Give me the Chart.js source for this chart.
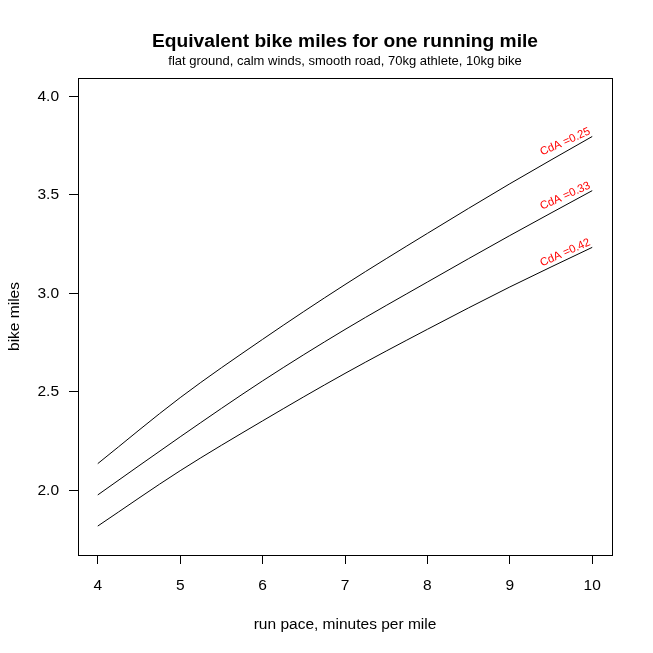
<!DOCTYPE html>
<html>
<head>
<meta charset="utf-8">
<script src="https://cdn.jsdelivr.net/npm/chart.js@4/dist/chart.umd.min.js"></script>
<style>
  html, body { margin: 0; padding: 0; background: #fff; }
  #wrap { width: 653px; height: 653px; }
</style>
</head>
<body>
<div id="wrap"><canvas id="chart" width="653" height="653"></canvas></div>
<script>
// run pace (minutes per mile)
const paces = [4, 5, 6, 7, 8, 9, 10];
// equivalent bike miles, one series per CdA value
const cda025 = [2.136, 2.471, 2.767, 3.045, 3.305, 3.557, 3.797];
const cda033 = [1.977, 2.272, 2.556, 2.817, 3.058, 3.294, 3.522];
const cda042 = [1.819, 2.100, 2.353, 2.594, 2.818, 3.033, 3.234];
const seriesLabels = ['CdA =0.25', 'CdA =0.33', 'CdA =0.42'];
const xTicks = [4, 5, 6, 7, 8, 9, 10];
const yTicks = [2.0, 2.5, 3.0, 3.5, 4.0];

const FONT = '"Liberation Sans", Arial, sans-serif';

const toPoints = (vals) => paces.map((p, i) => ({ x: p, y: vals[i] }));

const lineStyle = {
    borderColor: '#000',
    borderWidth: 1,
    pointRadius: 0,
    fill: false,
    cubicInterpolationMode: 'monotone'
};

// box, titles, axis titles and the rotated series labels
const decorations = {
    id: 'decorations',
    afterDraw: (chart) => {
        const ctx = chart.ctx;
        const a = chart.chartArea;
        const cx = (a.left + a.right) / 2;
        ctx.save();

        ctx.strokeStyle = '#000';
        ctx.lineWidth = 1;
        ctx.strokeRect(a.left + 0.5, a.top + 0.5, a.right - a.left, a.bottom - a.top);

        ctx.fillStyle = '#000';
        ctx.textAlign = 'center';
        ctx.textBaseline = 'alphabetic';
        ctx.font = 'bold 19.2px ' + FONT;
        ctx.fillText('Equivalent bike miles for one running mile', cx, 47);
        ctx.font = '13px ' + FONT;
        ctx.fillText('flat ground, calm winds, smooth road, 70kg athlete, 10kg bike', cx, 64.5);

        ctx.font = '15.5px ' + FONT;
        ctx.fillText('run pace, minutes per mile', cx, 628.5);
        ctx.save();
        ctx.translate(18.5, (a.top + a.bottom) / 2);
        ctx.rotate(-Math.PI / 2);
        ctx.fillText('bike miles', 0, 0);
        ctx.restore();

        // series labels at the end of each curve
        const xs = chart.scales.x, ys = chart.scales.y;
        ctx.fillStyle = '#ff0000';
        ctx.font = '11.3px ' + FONT;
        ctx.textAlign = 'right';
        chart.data.datasets.forEach((ds, i) => {
            const last = ds.data[ds.data.length - 1];
            ctx.save();
            ctx.translate(xs.getPixelForValue(last.x), ys.getPixelForValue(last.y));
            ctx.rotate(-24 * Math.PI / 180);
            ctx.fillText(seriesLabels[i], 0, -3);
            ctx.restore();
        });
        ctx.restore();
    }
};

new Chart(document.getElementById('chart').getContext('2d'), {
    type: 'line',
    data: {
        datasets: [
            { ...lineStyle, label: seriesLabels[0], data: toPoints(cda025) },
            { ...lineStyle, label: seriesLabels[1], data: toPoints(cda033) },
            { ...lineStyle, label: seriesLabels[2], data: toPoints(cda042) }
        ]
    },
    options: {
        responsive: false,
        devicePixelRatio: 1,
        animation: false,
        layout: { padding: { left: 0, top: 78, right: 41, bottom: 0 } },
        plugins: {
            legend: { display: false },
            title: { display: false },
            tooltip: { enabled: false }
        },
        scales: {
            x: {
                type: 'linear',
                min: 3.76,
                max: 10.24,
                afterBuildTicks: (scale) => { scale.ticks = xTicks.map(v => ({ value: v })); },
                afterFit: (scale) => { scale.height = 98; },
                grid: { display: true, drawOnChartArea: false, drawTicks: true, tickLength: 9, color: '#000' },
                border: { display: true, color: '#000' },
                ticks: {
                    color: '#000',
                    font: { family: FONT, size: 15.5 },
                    padding: 12,
                    maxRotation: 0,
                    callback: (v) => String(v)
                }
            },
            y: {
                type: 'linear',
                min: 1.672,
                max: 4.094,
                afterBuildTicks: (scale) => { scale.ticks = yTicks.map(v => ({ value: v })); },
                afterFit: (scale) => { scale.width = 78; },
                grid: { display: true, drawOnChartArea: false, drawTicks: true, tickLength: 9, color: '#000' },
                border: { display: true, color: '#000' },
                ticks: {
                    color: '#000',
                    font: { family: FONT, size: 15.5 },
                    padding: 10,
                    callback: (v) => Number(v).toFixed(1)
                }
            }
        }
    },
    plugins: [decorations]
});
</script>
</body>
</html>
